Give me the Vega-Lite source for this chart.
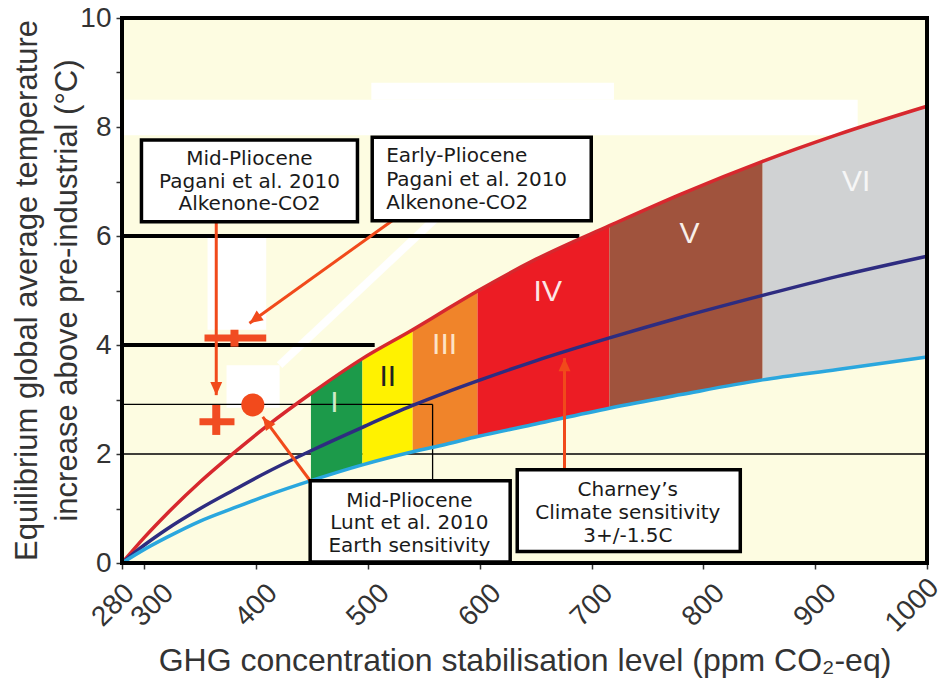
{
  "$schema": "https://vega.github.io/schema/vega-lite/v6.json",
  "width": 805,
  "height": 545,
  "autosize": {"type": "none"},
  "padding": {"left": 122, "top": 18, "right": 18, "bottom": 119},
  "background": "white",
  "config": {
    "view": {"stroke": null, "fill": "#FDFCE1"},
    "axis": {
      "domain": false, "grid": false, "zindex": 1,
      "tickColor": "#333333", "tickSize": 6, "tickWidth": 1.5,
      "labelFont": "Liberation Sans", "labelFontSize": 28, "labelColor": "#333333",
      "titleFont": "Liberation Sans", "titleColor": "#333333", "titleFontWeight": "normal"
    }
  },
  "resolve": {"scale": {"color": "independent"}},
  "datasets": {
    "curves": [
      {"ppm": 280, "t": 0, "c": "upper"}, {"ppm": 300, "t": 0.47, "c": "upper"}, {"ppm": 320, "t": 0.9, "c": "upper"}, {"ppm": 350, "t": 1.49, "c": "upper"}, {"ppm": 380, "t": 2.02, "c": "upper"}, {"ppm": 410, "t": 2.52, "c": "upper"}, {"ppm": 449, "t": 3.11, "c": "upper"}, {"ppm": 495, "t": 3.75, "c": "upper"}, {"ppm": 540, "t": 4.28, "c": "upper"}, {"ppm": 570, "t": 4.65, "c": "upper"}, {"ppm": 598, "t": 4.99, "c": "upper"}, {"ppm": 650, "t": 5.57, "c": "upper"}, {"ppm": 716, "t": 6.19, "c": "upper"}, {"ppm": 780, "t": 6.77, "c": "upper"}, {"ppm": 853, "t": 7.37, "c": "upper"}, {"ppm": 920, "t": 7.86, "c": "upper"}, {"ppm": 1000, "t": 8.38, "c": "upper"},
      {"ppm": 280, "t": 0, "c": "mid"}, {"ppm": 300, "t": 0.33, "c": "mid"}, {"ppm": 320, "t": 0.62, "c": "mid"}, {"ppm": 350, "t": 1.0, "c": "mid"}, {"ppm": 380, "t": 1.34, "c": "mid"}, {"ppm": 410, "t": 1.67, "c": "mid"}, {"ppm": 449, "t": 2.06, "c": "mid"}, {"ppm": 495, "t": 2.49, "c": "mid"}, {"ppm": 540, "t": 2.89, "c": "mid"}, {"ppm": 570, "t": 3.13, "c": "mid"}, {"ppm": 598, "t": 3.34, "c": "mid"}, {"ppm": 650, "t": 3.71, "c": "mid"}, {"ppm": 716, "t": 4.13, "c": "mid"}, {"ppm": 780, "t": 4.51, "c": "mid"}, {"ppm": 853, "t": 4.91, "c": "mid"}, {"ppm": 920, "t": 5.26, "c": "mid"}, {"ppm": 1000, "t": 5.63, "c": "mid"},
      {"ppm": 280, "t": 0, "c": "lower"}, {"ppm": 300, "t": 0.25, "c": "lower"}, {"ppm": 320, "t": 0.47, "c": "lower"}, {"ppm": 350, "t": 0.77, "c": "lower"}, {"ppm": 380, "t": 1.01, "c": "lower"}, {"ppm": 410, "t": 1.24, "c": "lower"}, {"ppm": 449, "t": 1.51, "c": "lower"}, {"ppm": 495, "t": 1.8, "c": "lower"}, {"ppm": 540, "t": 2.04, "c": "lower"}, {"ppm": 570, "t": 2.18, "c": "lower"}, {"ppm": 598, "t": 2.32, "c": "lower"}, {"ppm": 650, "t": 2.55, "c": "lower"}, {"ppm": 716, "t": 2.84, "c": "lower"}, {"ppm": 780, "t": 3.09, "c": "lower"}, {"ppm": 853, "t": 3.36, "c": "lower"}, {"ppm": 920, "t": 3.55, "c": "lower"}, {"ppm": 1000, "t": 3.78, "c": "lower"}
    ],
    "bands": [
      {"band": "I", "ppm": 449, "hi": 3.11, "lo": 1.51}, {"band": "I", "ppm": 495, "hi": 3.75, "lo": 1.8},
      {"band": "II", "ppm": 495, "hi": 3.75, "lo": 1.8}, {"band": "II", "ppm": 540, "hi": 4.28, "lo": 2.04},
      {"band": "III", "ppm": 540, "hi": 4.28, "lo": 2.04}, {"band": "III", "ppm": 570, "hi": 4.65, "lo": 2.18}, {"band": "III", "ppm": 598, "hi": 4.99, "lo": 2.32},
      {"band": "IV", "ppm": 598, "hi": 4.99, "lo": 2.32}, {"band": "IV", "ppm": 650, "hi": 5.57, "lo": 2.55}, {"band": "IV", "ppm": 716, "hi": 6.19, "lo": 2.84},
      {"band": "V", "ppm": 716, "hi": 6.19, "lo": 2.84}, {"band": "V", "ppm": 780, "hi": 6.77, "lo": 3.09}, {"band": "V", "ppm": 853, "hi": 7.37, "lo": 3.36},
      {"band": "VI", "ppm": 853, "hi": 7.37, "lo": 3.36}, {"band": "VI", "ppm": 920, "hi": 7.86, "lo": 3.55}, {"band": "VI", "ppm": 1000, "hi": 8.38, "lo": 3.78}
    ],
    "numerals": [
      {"band": "I", "ppm": 470, "t": 2.93}, {"band": "II", "ppm": 517.7, "t": 3.42}, {"band": "III", "ppm": 568.5, "t": 4.0},
      {"band": "IV", "ppm": 660.8, "t": 4.98}, {"band": "V", "ppm": 787.6, "t": 6.03}, {"band": "VI", "ppm": 936.7, "t": 7.0}
    ],
    "white": [
      {"x1": 282, "x2": 938, "y1": 7.85, "y2": 8.5},
      {"x1": 503, "x2": 720, "y1": 8.5, "y2": 8.81},
      {"x1": 356.5, "x2": 409, "y1": 4.28, "y2": 5.98},
      {"x1": 373.5, "x2": 421, "y1": 2.85, "y2": 3.63}
    ],
    "whiteStrip": [{"x1": 420.9, "y1": 3.63, "x2": 564, "y2": 6.39}],
    "thinH": [{"x1": 280, "x2": 1000, "y": 2}],
    "refH": [{"x1": 280, "x2": 557.8, "y": 2.91}],
    "refV": [{"x": 557.8, "y1": 2.91, "y2": 1.51}],
    "thickH": [{"x1": 280, "x2": 689, "y": 6}, {"x1": 280, "x2": 506, "y": 4}],
    "arrows": [
      {"id": "a1", "x1": 364.3, "y1": 6.26, "x2": 364.3, "y2": 3.08},
      {"id": "a2", "x1": 522.2, "y1": 6.29, "x2": 394, "y2": 4.4},
      {"id": "a3", "x1": 448.6, "y1": 1.5, "x2": 405.9, "y2": 2.68},
      {"id": "a4", "x1": 675.8, "y1": 1.71, "x2": 675.8, "y2": 3.76}
    ],
    "plusH": [{"x1": 353.8, "x2": 409, "y": 4.13}, {"x1": 349.3, "x2": 380.6, "y": 2.59}],
    "plusV": [{"x": 380.6, "y1": 4.28, "y2": 3.97}, {"x": 364.3, "y1": 2.9, "y2": 2.35}],
    "circle": [{"ppm": 397, "t": 2.9}],
    "boxes": [
      {"id": "A", "x1": 297.4, "x2": 490.6, "y1": 6.26, "y2": 7.76},
      {"id": "B", "x1": 503.8, "x2": 699.7, "y1": 6.28, "y2": 7.81},
      {"id": "C", "x1": 448.3, "x2": 627.2, "y1": 0.02, "y2": 1.51},
      {"id": "D", "x1": 633.5, "x2": 833, "y1": 0.21, "y2": 1.71}
    ],
    "boxText": [
      {"id": "A", "line": "Mid-Pliocene", "ppm": 394, "t": 7.41},
      {"id": "A", "line": "Pagani et al. 2010", "ppm": 394, "t": 7.0},
      {"id": "A", "line": "Alkenone-CO2", "ppm": 394, "t": 6.59},
      {"id": "B", "line": "Early-Pliocene", "ppm": 516.3, "t": 7.46},
      {"id": "B", "line": "Pagani et al. 2010", "ppm": 516.3, "t": 7.03},
      {"id": "B", "line": "Alkenone-CO2", "ppm": 516.3, "t": 6.61},
      {"id": "C", "line": "Mid-Pliocene", "ppm": 537, "t": 1.14},
      {"id": "C", "line": "Lunt et al. 2010", "ppm": 537, "t": 0.73},
      {"id": "C", "line": "Earth sensitivity", "ppm": 537, "t": 0.31},
      {"id": "D", "line": "Charney’s", "ppm": 732.4, "t": 1.34},
      {"id": "D", "line": "Climate sensitivity", "ppm": 732.4, "t": 0.92},
      {"id": "D", "line": "3+/-1.5C", "ppm": 732.4, "t": 0.5}
    ]
  },
  "layer": [
    {
      "data": {"name": "thinH"},
      "mark": {"type": "rule", "color": "black", "strokeWidth": 1.3},
      "encoding": {
        "x": {"field": "x1", "type": "quantitative", "scale": {"domain": [280, 1000], "nice": false, "zero": false},
          "axis": {"title": "GHG concentration stabilisation level (ppm CO₂-eq)", "values": [280, 300, 400, 500, 600, 700, 800, 900, 1000], "format": "d",
            "labelAngle": -45, "labelAlign": "center", "labelBaseline": "middle", "labelPadding": 36, "labelOverlap": false, "labelFlush": false,
            "labelOffset": {"condition": [{"test": "datum.value === 1000", "value": -15}, {"test": "datum.value === 280", "value": -9}, {"test": "datum.value === 300", "value": 8}], "value": 0},
            "titleY": 107, "titleBaseline": "alphabetic", "titleFontSize": 32}},
        "x2": {"field": "x2"},
        "y": {"field": "y", "type": "quantitative", "scale": {"domain": [0, 10], "nice": false, "zero": false},
          "axis": {"title": ["Equilibrium global average temperature", "increase above pre-industrial (°C)"], "values": [0, 1, 2, 3, 4, 5, 6, 7, 8, 9, 10],
            "labelExpr": "datum.value % 2 === 0 ? datum.label : ''", "labelPadding": 5,
            "titleAngle": -90, "titleX": -110, "titleY": 272, "titleAlign": "center", "titleBaseline": "top", "titleLineHeight": 40, "titleFontSize": 31}}
      }
    },
    {
      "data": {"name": "white"},
      "mark": {"type": "rect", "color": "white"},
      "encoding": {
        "x": {"field": "x1", "type": "quantitative", "scale": {"domain": [280, 1000], "nice": false, "zero": false}},
        "x2": {"field": "x2"},
        "y": {"field": "y1", "type": "quantitative", "scale": {"domain": [0, 10], "nice": false, "zero": false}},
        "y2": {"field": "y2"}
      }
    },
    {
      "data": {"name": "whiteStrip"},
      "mark": {"type": "rule", "color": "white", "strokeWidth": 8},
      "encoding": {
        "x": {"field": "x1", "type": "quantitative", "scale": {"domain": [280, 1000], "nice": false, "zero": false}},
        "x2": {"field": "x2"},
        "y": {"field": "y1", "type": "quantitative", "scale": {"domain": [0, 10], "nice": false, "zero": false}},
        "y2": {"field": "y2"}
      }
    },
    {
      "data": {"name": "thickH"},
      "mark": {"type": "rule", "color": "black", "strokeWidth": 4},
      "encoding": {
        "x": {"field": "x1", "type": "quantitative", "scale": {"domain": [280, 1000], "nice": false, "zero": false}},
        "x2": {"field": "x2"},
        "y": {"field": "y", "type": "quantitative", "scale": {"domain": [0, 10], "nice": false, "zero": false}}
      }
    },
    {
      "data": {"name": "bands"},
      "mark": {"type": "area", "opacity": 1, "interpolate": "monotone"},
      "encoding": {
        "x": {"field": "ppm", "type": "quantitative", "scale": {"domain": [280, 1000], "nice": false, "zero": false}},
        "y": {"field": "hi", "type": "quantitative", "scale": {"domain": [0, 10], "nice": false, "zero": false}},
        "y2": {"field": "lo"},
        "color": {"field": "band", "type": "nominal", "legend": null,
          "scale": {"domain": ["I", "II", "III", "IV", "V", "VI"], "range": ["#1C9A4A", "#FFF200", "#F0842A", "#EC1C24", "#A0533D", "#D0D2D3"]}}
      }
    },
    {
      "data": {"name": "refH"},
      "mark": {"type": "rule", "color": "black", "strokeWidth": 1.3},
      "encoding": {
        "x": {"field": "x1", "type": "quantitative", "scale": {"domain": [280, 1000], "nice": false, "zero": false}},
        "x2": {"field": "x2"},
        "y": {"field": "y", "type": "quantitative", "scale": {"domain": [0, 10], "nice": false, "zero": false}}
      }
    },
    {
      "data": {"name": "refV"},
      "mark": {"type": "rule", "color": "black", "strokeWidth": 1.3},
      "encoding": {
        "x": {"field": "x", "type": "quantitative", "scale": {"domain": [280, 1000], "nice": false, "zero": false}},
        "y": {"field": "y1", "type": "quantitative", "scale": {"domain": [0, 10], "nice": false, "zero": false}},
        "y2": {"field": "y2"}
      }
    },
    {
      "data": {"name": "curves"},
      "mark": {"type": "line", "strokeWidth": 3.5, "interpolate": "monotone"},
      "encoding": {
        "x": {"field": "ppm", "type": "quantitative", "scale": {"domain": [280, 1000], "nice": false, "zero": false}},
        "y": {"field": "t", "type": "quantitative", "scale": {"domain": [0, 10], "nice": false, "zero": false}},
        "color": {"field": "c", "type": "nominal", "legend": null,
          "scale": {"domain": ["upper", "mid", "lower"], "range": ["#D7282E", "#2E2C80", "#2AA7DE"]}}
      }
    },
    {
      "data": {"name": "numerals"},
      "mark": {"type": "text", "font": "Liberation Sans Narrow, Liberation Sans", "fontSize": 30, "align": "center", "baseline": "middle"},
      "encoding": {
        "x": {"field": "ppm", "type": "quantitative", "scale": {"domain": [280, 1000], "nice": false, "zero": false}},
        "y": {"field": "t", "type": "quantitative", "scale": {"domain": [0, 10], "nice": false, "zero": false}},
        "text": {"field": "band"},
        "color": {"field": "band", "type": "nominal", "legend": null,
          "scale": {"domain": ["I", "II", "III", "IV", "V", "VI"], "range": ["#CDEBC8", "#222222", "#FDE3C7", "#FCE6E6", "#F8EEE8", "#F6F6F6"]}}
      }
    },
    {
      "data": {"name": "arrows"},
      "mark": {"type": "rule", "color": "#F14A1B", "strokeWidth": 3},
      "encoding": {
        "x": {"field": "x1", "type": "quantitative", "scale": {"domain": [280, 1000], "nice": false, "zero": false}},
        "x2": {"field": "x2"},
        "y": {"field": "y1", "type": "quantitative", "scale": {"domain": [0, 10], "nice": false, "zero": false}},
        "y2": {"field": "y2"}
      }
    },
    {
      "data": {"name": "arrows"},
      "transform": [{"filter": "datum.id === 'a1'"}],
      "mark": {"type": "point", "shape": "M0,0L-0.45,1L0.45,1Z", "filled": true, "color": "#F14A1B", "opacity": 1, "size": 700, "angle": 180},
      "encoding": {
        "x": {"field": "x2", "type": "quantitative", "scale": {"domain": [280, 1000], "nice": false, "zero": false}},
        "y": {"field": "y2", "type": "quantitative", "scale": {"domain": [0, 10], "nice": false, "zero": false}}
      }
    },
    {
      "data": {"name": "arrows"},
      "transform": [{"filter": "datum.id === 'a2'"}],
      "mark": {"type": "point", "shape": "M0,0L-0.45,1L0.45,1Z", "filled": true, "color": "#F14A1B", "opacity": 1, "size": 700, "angle": 234},
      "encoding": {
        "x": {"field": "x2", "type": "quantitative", "scale": {"domain": [280, 1000], "nice": false, "zero": false}},
        "y": {"field": "y2", "type": "quantitative", "scale": {"domain": [0, 10], "nice": false, "zero": false}}
      }
    },
    {
      "data": {"name": "arrows"},
      "transform": [{"filter": "datum.id === 'a3'"}],
      "mark": {"type": "point", "shape": "M0,0L-0.45,1L0.45,1Z", "filled": true, "color": "#F14A1B", "opacity": 1, "size": 700, "angle": 323},
      "encoding": {
        "x": {"field": "x2", "type": "quantitative", "scale": {"domain": [280, 1000], "nice": false, "zero": false}},
        "y": {"field": "y2", "type": "quantitative", "scale": {"domain": [0, 10], "nice": false, "zero": false}}
      }
    },
    {
      "data": {"name": "arrows"},
      "transform": [{"filter": "datum.id === 'a4'"}],
      "mark": {"type": "point", "shape": "M0,0L-0.45,1L0.45,1Z", "filled": true, "color": "#F14A1B", "opacity": 1, "size": 700, "angle": 0},
      "encoding": {
        "x": {"field": "x2", "type": "quantitative", "scale": {"domain": [280, 1000], "nice": false, "zero": false}},
        "y": {"field": "y2", "type": "quantitative", "scale": {"domain": [0, 10], "nice": false, "zero": false}}
      }
    },
    {
      "data": {"name": "plusH"},
      "mark": {"type": "rule", "color": "#F14C22", "strokeWidth": 7},
      "encoding": {
        "x": {"field": "x1", "type": "quantitative", "scale": {"domain": [280, 1000], "nice": false, "zero": false}},
        "x2": {"field": "x2"},
        "y": {"field": "y", "type": "quantitative", "scale": {"domain": [0, 10], "nice": false, "zero": false}}
      }
    },
    {
      "data": {"name": "plusV"},
      "mark": {"type": "rule", "color": "#F14C22", "strokeWidth": 8},
      "encoding": {
        "x": {"field": "x", "type": "quantitative", "scale": {"domain": [280, 1000], "nice": false, "zero": false}},
        "y": {"field": "y1", "type": "quantitative", "scale": {"domain": [0, 10], "nice": false, "zero": false}},
        "y2": {"field": "y2"}
      }
    },
    {
      "data": {"name": "circle"},
      "mark": {"type": "point", "shape": "circle", "filled": true, "color": "#F24A1C", "opacity": 1, "size": 530},
      "encoding": {
        "x": {"field": "ppm", "type": "quantitative", "scale": {"domain": [280, 1000], "nice": false, "zero": false}},
        "y": {"field": "t", "type": "quantitative", "scale": {"domain": [0, 10], "nice": false, "zero": false}}
      }
    },
    {
      "data": {"name": "boxes"},
      "mark": {"type": "rect", "fill": "white", "stroke": "black", "strokeWidth": 3.5},
      "encoding": {
        "x": {"field": "x1", "type": "quantitative", "scale": {"domain": [280, 1000], "nice": false, "zero": false}},
        "x2": {"field": "x2"},
        "y": {"field": "y1", "type": "quantitative", "scale": {"domain": [0, 10], "nice": false, "zero": false}},
        "y2": {"field": "y2"}
      }
    },
    {
      "data": {"name": "boxText"},
      "transform": [{"filter": "datum.id !== 'B'"}],
      "mark": {"type": "text", "font": "DejaVu Sans", "fontSize": 20, "color": "#1A1A1A", "align": "center", "baseline": "middle"},
      "encoding": {
        "x": {"field": "ppm", "type": "quantitative", "scale": {"domain": [280, 1000], "nice": false, "zero": false}},
        "y": {"field": "t", "type": "quantitative", "scale": {"domain": [0, 10], "nice": false, "zero": false}},
        "text": {"field": "line"}
      }
    },
    {
      "data": {"name": "boxText"},
      "transform": [{"filter": "datum.id === 'B'"}],
      "mark": {"type": "text", "font": "DejaVu Sans", "fontSize": 20, "color": "#1A1A1A", "align": "left", "baseline": "middle"},
      "encoding": {
        "x": {"field": "ppm", "type": "quantitative", "scale": {"domain": [280, 1000], "nice": false, "zero": false}},
        "y": {"field": "t", "type": "quantitative", "scale": {"domain": [0, 10], "nice": false, "zero": false}},
        "text": {"field": "line"}
      }
    },
    {
      "data": {"values": [{}]},
      "mark": {"type": "rect", "fill": "transparent", "stroke": "black", "strokeWidth": 4},
      "encoding": {
        "x": {"datum": 280, "type": "quantitative", "scale": {"domain": [280, 1000], "nice": false, "zero": false}},
        "x2": {"datum": 1000},
        "y": {"datum": 0, "type": "quantitative", "scale": {"domain": [0, 10], "nice": false, "zero": false}},
        "y2": {"datum": 10}
      }
    }
  ]
}
